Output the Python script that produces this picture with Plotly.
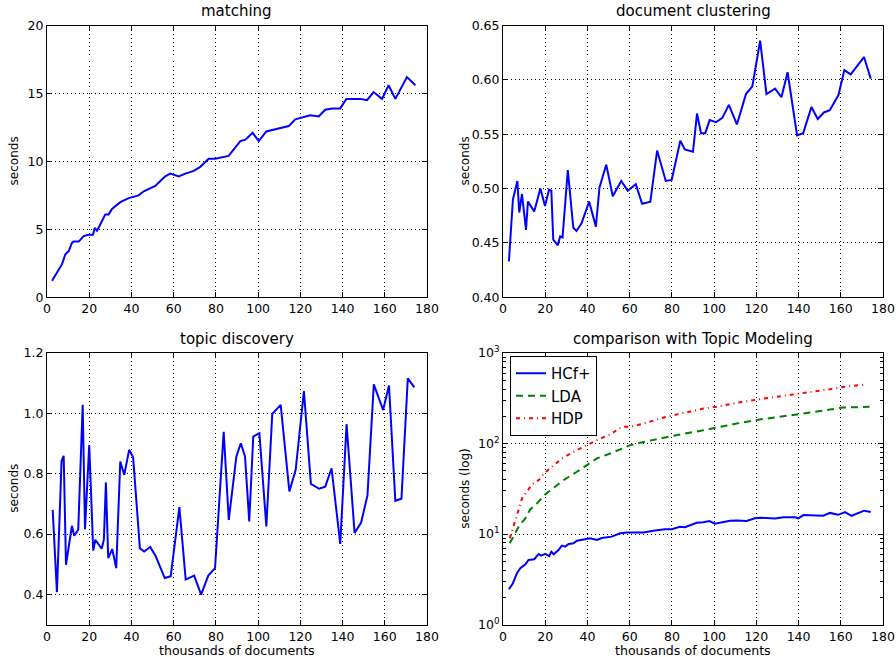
import plotly.graph_objects as go

# ---------------- data ----------------
match_x = [2.4, 4.7, 7.1, 8.7, 10.3, 11.8, 12.6, 15.0, 17.4, 19.7, 21.8, 22.6, 23.7, 25.7, 27.6, 29.2,
           30.8, 34.7, 38.7, 43.4, 45.8, 51.3, 56.0, 58.4, 62.4, 65.5, 69.5, 72.6, 76.6, 79.7, 86.0,
           91.6, 94.0, 97.4, 100.3, 103.9, 114.5, 117.6, 124.7, 128.7, 131.8, 135.0, 138.9, 141.8,
           148.4, 151.6, 154.7, 158.7, 161.8, 165.0, 170.5, 174.5]
match_y = [1.22, 1.83, 2.44, 3.17, 3.4, 4.0, 4.1, 4.1, 4.5, 4.6, 4.6, 5.1, 4.9, 5.5, 6.1, 6.1,
           6.5, 7.0, 7.3, 7.5, 7.8, 8.2, 8.9, 9.1, 8.9, 9.1, 9.3, 9.6, 10.2, 10.2, 10.4,
           11.5, 11.6, 12.1, 11.5, 12.2, 12.6, 13.1, 13.4, 13.3, 13.8, 13.9, 13.9, 14.6,
           14.6, 14.5, 15.1, 14.6, 15.6, 14.6, 16.2, 15.6]

clust_x = [2.8, 4.7, 6.8, 7.7, 9.0, 10.9, 11.8, 14.8, 17.7, 19.9, 21.8, 22.9, 23.8, 25.9, 27.1, 28.2,
           30.7, 33.3, 34.8, 37.2, 40.8, 44.0, 45.7, 48.9, 52.0, 56.0, 59.1, 62.9, 65.9, 69.8, 73.0,
           77.1, 79.9, 84.0, 86.1, 90.0, 91.9, 93.8, 95.8, 97.9, 100.9, 103.9, 107.0, 110.8, 115.1,
           118.1, 121.8, 124.8, 128.9, 131.9, 134.8, 139.3, 142.2, 146.1, 149.1, 152.0, 154.8, 158.9,
           161.7, 164.7, 171.0, 174.2]
clust_y = [0.433, 0.490, 0.507, 0.478, 0.495, 0.462, 0.488, 0.479, 0.500, 0.484, 0.499, 0.498, 0.453,
           0.448, 0.456, 0.455, 0.517, 0.464, 0.461, 0.468, 0.488, 0.465, 0.501, 0.522, 0.493, 0.507,
           0.498, 0.504, 0.486, 0.488, 0.535, 0.507, 0.508, 0.544, 0.536, 0.534, 0.569, 0.551, 0.551,
           0.563, 0.561, 0.565, 0.577, 0.559, 0.587, 0.594, 0.636, 0.587, 0.592, 0.584, 0.607, 0.549,
           0.551, 0.575, 0.564, 0.570, 0.572, 0.586, 0.609, 0.605, 0.621, 0.601]

topic_x = [2.7, 4.7, 6.9, 7.9, 9.0, 11.8, 12.9, 14.8, 16.9, 18.0, 20.0, 21.9, 22.9, 25.9, 26.95, 27.9,
           29.0, 30.9, 32.8, 34.7, 36.6, 38.9, 40.8, 44.0, 46.0, 48.9, 51.5, 55.8, 58.6, 62.7, 65.7,
           69.7, 73.0, 76.4, 79.6, 83.7, 86.1, 89.7, 91.8, 93.8, 95.8, 97.7, 100.6, 103.9, 106.7,
           110.7, 114.8, 117.8, 121.7, 125.0, 128.9, 131.8, 134.8, 138.9, 141.9, 145.7, 148.8, 151.8,
           154.8, 159.2, 162.0, 165.0, 167.9, 170.9, 174.0]
topic_y = [0.680, 0.407, 0.842, 0.859, 0.498, 0.627, 0.594, 0.614, 1.028, 0.616, 0.895, 0.545, 0.581,
           0.551, 0.581, 0.771, 0.520, 0.550, 0.487, 0.840, 0.796, 0.879, 0.854, 0.553, 0.542, 0.557,
           0.526, 0.454, 0.460, 0.689, 0.449, 0.462, 0.399, 0.462, 0.487, 0.939, 0.647, 0.857, 0.901,
           0.857, 0.642, 0.923, 0.934, 0.625, 0.998, 1.028, 0.741, 0.813, 1.074, 0.766, 0.750, 0.757,
           0.818, 0.567, 0.964, 0.603, 0.638, 0.728, 1.096, 1.011, 1.092, 0.710, 0.717, 1.116, 1.086]

hcf_x = [2.8, 4.7, 6.6, 8.2, 10.6, 12.1, 14.8, 16.9, 18.1, 20.0, 21.9, 22.9, 24.0, 26.3, 27.9, 29.5,
         31.1, 33.4, 35.0, 38.9, 41.3, 44.5, 46.8, 51.5, 55.5, 58.6, 66.5, 72.0, 76.7, 79.9, 83.8,
         86.2, 91.7, 94.9, 97.7, 100.4, 107.5, 110.6, 115.4, 119.3, 122.5, 128.9, 132.8, 138.3,
         139.9, 142.3, 151.7, 154.9, 158.8, 162.0, 165.1, 171.1, 174.2]
hcf_y = [2.45, 2.86, 3.68, 4.18, 4.62, 5.16, 5.26, 6.02, 5.77, 6.02, 5.71, 6.38, 5.97, 6.66, 7.44, 7.25,
         7.76, 7.89, 8.44, 8.73, 8.95, 8.59, 9.04, 9.35, 10.2, 10.4, 10.4, 10.9, 11.3, 11.3, 12.0,
         11.9, 13.3, 13.5, 13.9, 13.0, 14.0, 14.1, 13.9, 14.9, 15.1, 14.8, 15.3, 15.3,
         14.9, 16.2, 15.9, 17.1, 16.3, 17.5, 15.9, 18.1, 17.5]

lda_x = [3.2, 5.0, 7.9, 10.6, 12.9, 16.1, 20.0, 24.7, 28.7, 35.0, 39.7, 44.5, 50.8, 57.1, 60.3, 66.6,
         79.2, 94.9, 101.2, 110.6, 121.6, 134.3, 142.2, 154.8, 161.0, 173.6]
lda_y = [7.9, 9.35, 12.6, 14.9, 18.7, 21.8, 27.4, 33.3, 39.4, 48.7, 57.7, 68.4, 77.6, 88.2, 95.9, 104,
         120, 140, 150, 166, 184, 200, 214, 237, 250, 254]

hdp_x = [3.2, 5.0, 7.1, 9.0, 11.3, 13.7, 16.9, 19.2, 24.0, 28.7, 35.0, 39.7, 44.5, 50.8, 56.3, 60.3,
         66.6, 76.1, 85.5, 94.9, 101.2, 110.6, 121.6, 134.3, 145.3, 154.8, 161.0, 171.0]
hdp_y = [8.95, 12.0, 17.6, 24.7, 29.3, 35.3, 39.4, 45.9, 57.7, 70.1, 84.4, 95.9, 109, 126, 153, 153,
         166, 194, 218, 243, 254, 281, 309, 338, 368, 397, 421, 448]

titles = ["matching", "document clustering", "topic discovery", "comparison with Topic Modeling"]
x_label = "thousands of documents"
y_labels = ["seconds", "seconds", "seconds", "seconds (log)"]
log_tickvals = [1, 10, 100, 1000]
log_ticktext = ["10<sup>0</sup>", "10<sup>1</sup>", "10<sup>2</sup>", "10<sup>3</sup>"]

# ---------------- figure ----------------
W, H = 896, 657
FONT = "DejaVu Sans"
BLUE, GREEN, RED = "#0000ff", "#008000", "#ff0000"

def px(x):
    return x / W

def py(y):
    return (H - y) / H

fig = go.Figure()

def line(x, y, name, ax, color, dash="solid", legend=False):
    fig.add_trace(go.Scatter(x=x, y=y, mode="lines", name=name, xaxis="x" + ax, yaxis="y" + ax,
                             line=dict(color=color, width=2, dash=dash), showlegend=legend))

line(match_x, match_y, "matching", "", BLUE)
line(clust_x, clust_y, "clustering", "2", BLUE)
line(topic_x, topic_y, "discovery", "3", BLUE)
line(hcf_x, hcf_y, "HCf+", "4", BLUE, legend=True)
line(lda_x, lda_y, "LDA", "4", GREEN, dash="7px,5px", legend=True)
line(hdp_x, hdp_y, "HDP", "4", RED, dash="4px,4px,1px,4px", legend=True)

xl = [px(47), px(427)]
xr = [px(503), px(883)]
yt = [py(297.3), py(25.5)]
yb = [py(624.5), py(353)]

TICK = 12.5
common = dict(showline=True, linecolor="black", linewidth=1, mirror="allticks",
              ticks="inside", ticklen=5, tickcolor="black", showgrid=True, automargin=False,
              gridcolor="black", gridwidth=1, griddash="1px,3px", zeroline=False,
              tickfont=dict(family=FONT, size=TICK, color="black"))

def xaxis(dom, anchor):
    return dict(domain=dom, anchor=anchor, range=[0, 180], tick0=0, dtick=20, **common)

layout = dict(
    width=W, height=H, margin=dict(l=0, r=0, t=0, b=0, autoexpand=False),
    paper_bgcolor="white", plot_bgcolor="white",
    font=dict(family=FONT, size=13, color="black"),
    xaxis=xaxis(xl, "y"), yaxis=dict(domain=yt, anchor="x", range=[0, 20], tick0=0, dtick=5, **common),
    xaxis2=xaxis(xr, "y2"), yaxis2=dict(domain=yt, anchor="x2", range=[0.40, 0.65], tick0=0.4, dtick=0.05,
                                        tickformat=".2f", **common),
    xaxis3=xaxis(xl, "y3"), yaxis3=dict(domain=yb, anchor="x3", range=[0.3, 1.2], tick0=0.4, dtick=0.2,
                                        tickformat=".1f", **common),
    xaxis4=xaxis(xr, "y4"), yaxis4=dict(domain=yb, anchor="x4", type="log", range=[0, 3],
                                        tickvals=log_tickvals, ticktext=log_ticktext,
                                        minor=dict(ticks="inside", ticklen=3, tickcolor="black",
                                                   showgrid=False, tickvals=[m * 10 ** e for e in range(3) for m in range(2, 10)]),
                                        **common),
    legend=dict(x=px(510), y=py(356), xanchor="left", yanchor="top", bordercolor="black", borderwidth=1,
                bgcolor="white", font=dict(family=FONT, size=15, color="black"),
                tracegroupgap=0, itemwidth=30),
    showlegend=True,
)
fig.update_layout(**layout)

# titles
tpos = [((xl[0] + xl[1]) / 2, yt[1]), ((xr[0] + xr[1]) / 2, yt[1]),
        ((xl[0] + xl[1]) / 2, yb[1]), ((xr[0] + xr[1]) / 2, yb[1])]
for t, (tx, ty) in zip(titles, tpos):
    fig.add_annotation(text=t, x=tx, y=ty, xref="paper", yref="paper", xanchor="center",
                       yanchor="bottom", showarrow=False, yshift=3,
                       font=dict(family=FONT, size=15, color="black"))

# y labels
ypos = [(14, (yt[0] + yt[1]) / 2), (465, (yt[0] + yt[1]) / 2),
        (14, (yb[0] + yb[1]) / 2), (465, (yb[0] + yb[1]) / 2)]
for t, (lx, ly) in zip(y_labels, ypos):
    fig.add_annotation(text=t, x=px(lx), y=ly, xref="paper", yref="paper", xanchor="center",
                       yanchor="middle", showarrow=False, textangle=-90,
                       font=dict(family=FONT, size=12, color="black"))

# x labels (bottom row)
for dom in (xl, xr):
    fig.add_annotation(text=x_label, x=(dom[0] + dom[1]) / 2, y=py(650), xref="paper", yref="paper",
                       xanchor="center", yanchor="middle", showarrow=False,
                       font=dict(family=FONT, size=12.6, color="black"))

# the page body normally has an 8px margin; remove it so the figure fills the window
fig.write_html("out.html", config={"displayModeBar": False},
               post_script="document.body.style.margin='0';document.documentElement.style.overflow='hidden';")
